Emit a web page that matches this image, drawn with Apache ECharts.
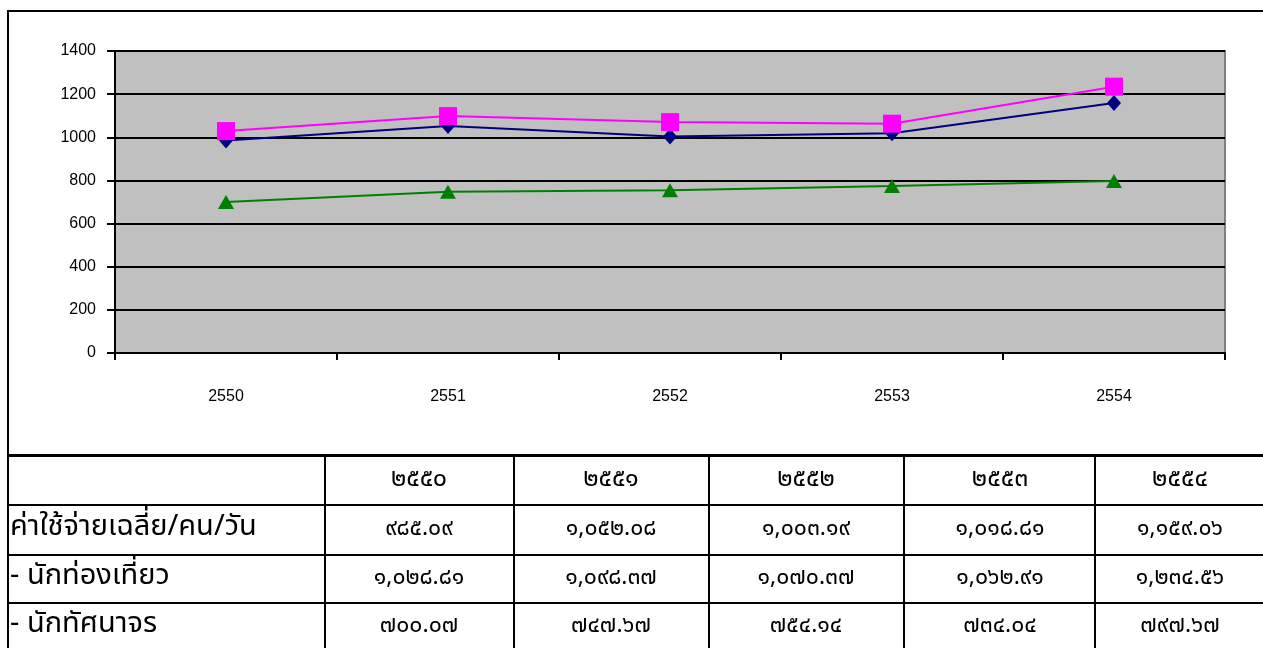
<!DOCTYPE html>
<html>
<head>
<meta charset="utf-8">
<script src="https://cdn.jsdelivr.net/npm/echarts@6/dist/echarts.min.js"></script>
<style>
html,body{margin:0;padding:0;background:#fff;}
#c{width:1263px;height:648px;}
</style>
</head>
<body>
<div id="c"></div>
<script>
// ---- data ----
var categories = ['2550', '2551', '2552', '2553', '2554'];
var avgSpend = [985.09, 1052.08, 1003.19, 1018.81, 1159.06];
var tourists = [1028.81, 1098.37, 1070.37, 1062.91, 1234.56];
var excursionists = [700.07, 747.67, 754.14, 774.04, 797.67];
var yTicks = [0, 200, 400, 600, 800, 1000, 1200, 1400];

var tableHeader = ['', '๒๕๕๐', '๒๕๕๑', '๒๕๕๒', '๒๕๕๓', '๒๕๕๔'];
var rowLabels = ['ค่าใช้จ่ายเฉลี่ย/คน/วัน', '- นักท่องเที่ยว', '- นักทัศนาจร'];
var rowAvg = ['๙๘๕.๐๙', '๑,๐๕๒.๐๘', '๑,๐๐๓.๑๙', '๑,๐๑๘.๘๑', '๑,๑๕๙.๐๖'];
var rowTourists = ['๑,๐๒๘.๘๑', '๑,๐๙๘.๓๗', '๑,๐๗๐.๓๗', '๑,๐๖๒.๙๑', '๑,๒๓๔.๕๖'];
var rowExcursionists = ['๗๐๐.๐๗', '๗๔๗.๖๗', '๗๕๔.๑๔', '๗๓๔.๐๔', '๗๙๗.๖๗'];

// ---- layout ----
var colEdges = [8, 325, 514, 709, 904, 1095, 1300];
var colCentres = [0, 419, 611, 806, 1000, 1180];
var rowEdges = [456, 505, 555, 603, 652];
var thaiFont = '"Noto Sans Thai", "Noto Sans Thai UI", "Leelawadee UI", Tahoma, "DejaVu Sans", "Noto Sans", sans-serif';

var chart = echarts.init(document.getElementById('c'));

var graphics = [];
graphics.push({
  type: 'rect', z: 0, silent: true,
  shape: {x: 8, y: 11, width: 1300, height: 444},
  style: {fill: 'none', stroke: '#000', lineWidth: 2}
});
for (var r = 0; r < rowEdges.length; r++) {
  graphics.push({type: 'line', silent: true,
    shape: {x1: colEdges[0], y1: rowEdges[r], x2: colEdges[colEdges.length - 1], y2: rowEdges[r]},
    style: {stroke: '#000', lineWidth: 2}});
}
for (var c = 0; c < colEdges.length; c++) {
  graphics.push({type: 'line', silent: true,
    shape: {x1: colEdges[c], y1: rowEdges[0], x2: colEdges[c], y2: rowEdges[rowEdges.length - 1]},
    style: {stroke: '#000', lineWidth: 2}});
}
var rows = [tableHeader,
  [rowLabels[0]].concat(rowAvg),
  [rowLabels[1]].concat(rowTourists),
  [rowLabels[2]].concat(rowExcursionists)];
for (var i = 0; i < rows.length; i++) {
  var cy = (rowEdges[i] + rowEdges[i + 1]) / 2;
  for (var j = 0; j < rows[i].length; j++) {
    if (!rows[i][j]) continue;
    var isLabel = (j === 0);
    graphics.push({
      type: 'text', silent: true,
      x: isLabel ? colEdges[0] + 2 : colCentres[j],
      y: cy + (isLabel ? -1 : 0),
      style: {
        text: rows[i][j],
        fill: '#000',
        font: (isLabel ? '29px ' : (i === 0 ? '25px ' : '23px ')) + thaiFont,
        textAlign: isLabel ? 'left' : 'center',
        textVerticalAlign: 'middle'
      }
    });
  }
}

var option = {
  animation: false,
  backgroundColor: '#fff',
  grid: {
    left: 115, top: 51, width: 1110, height: 302,
    show: true, backgroundColor: '#c0c0c0', borderColor: '#808080', borderWidth: 2
  },
  xAxis: {
    type: 'category',
    data: categories,
    boundaryGap: true,
    axisLine: {lineStyle: {color: '#000', width: 2}},
    axisTick: {show: true, length: 7, lineStyle: {color: '#000', width: 2}},
    axisLabel: {color: '#000', fontSize: 16, fontFamily: 'Liberation Sans, Arial, sans-serif', margin: 36},
    splitLine: {show: false}
  },
  yAxis: {
    type: 'value',
    min: yTicks[0], max: yTicks[yTicks.length - 1], interval: 200,
    axisLine: {show: true, lineStyle: {color: '#000', width: 2}},
    axisTick: {show: true, length: 8, lineStyle: {color: '#000', width: 2}},
    axisLabel: {color: '#000', fontSize: 16, fontFamily: 'Liberation Sans, Arial, sans-serif', margin: 19,
      formatter: function (v) { return String(v); }},
    splitLine: {show: true, lineStyle: {color: '#000', width: 2}}
  },
  series: [
    {
      name: 'ค่าใช้จ่ายเฉลี่ย/คน/วัน', type: 'line', data: avgSpend,
      symbol: 'diamond', symbolSize: [14, 16],
      lineStyle: {color: '#000080', width: 2},
      itemStyle: {color: '#000080'}, z: 3
    },
    {
      name: 'นักท่องเที่ยว', type: 'line', data: tourists,
      symbol: 'rect', symbolSize: 18,
      lineStyle: {color: '#ff00ff', width: 2},
      itemStyle: {color: '#ff00ff'}, z: 4
    },
    {
      name: 'นักทัศนาจร', type: 'line', data: excursionists,
      symbol: 'triangle', symbolSize: [16, 14],
      lineStyle: {color: '#008000', width: 2},
      itemStyle: {color: '#008000'}, z: 3
    }
  ],
  graphic: graphics
};
chart.setOption(option);
</script>
</body>
</html>
